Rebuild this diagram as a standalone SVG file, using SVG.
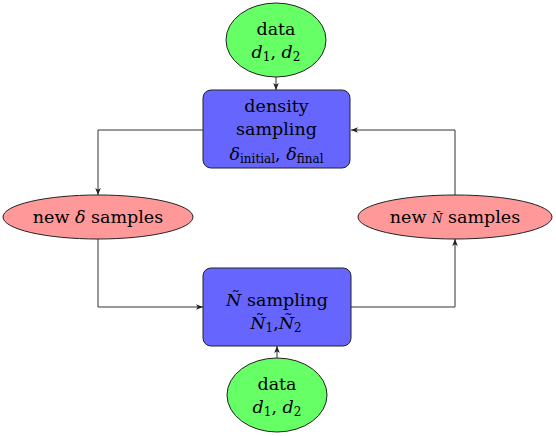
<svg xmlns="http://www.w3.org/2000/svg" width="556" height="436" viewBox="0 0 556 436">
<style>
text{font-family:"DejaVu Serif","Liberation Serif",serif;font-size:17.5px;fill:#000;text-anchor:middle}
.m{font-style:italic}
.s{font-size:12px}
.node{stroke:#222;stroke-width:1}
.green{fill:#66ff66}
.blue{fill:#6666ff}
.red{fill:#ff9999}
.edge{fill:none;stroke:#333;stroke-width:1}
</style>
<defs>
<marker id="ah" viewBox="0 0 10 10" refX="10" refY="5" markerWidth="7" markerHeight="7" orient="auto" markerUnits="userSpaceOnUse">
<path d="M0,1 L10,5 L0,9 L2.5,5 Z" fill="#222"/>
</marker>
</defs>
<g id="connectors">
<path class="edge" d="M276,77 L276,90" marker-end="url(#ah)"/>
<path class="edge" d="M203,130 L98,130 L98,195" marker-end="url(#ah)"/>
<path class="edge" d="M98,239 L98,307 L203,307" marker-end="url(#ah)"/>
<path class="edge" d="M351,307 L455,307 L455,239" marker-end="url(#ah)"/>
<path class="edge" d="M455,195 L455,130 L351,130" marker-end="url(#ah)"/>
<path class="edge" d="M277,358 L277,346" marker-end="url(#ah)"/>
</g>
<g id="data_top">
<ellipse class="node green" cx="276" cy="40" rx="50" ry="37"/>
<text x="276" y="35">data</text>
<text x="276" y="58"><tspan class="m">d</tspan><tspan class="s" dy="3">1</tspan><tspan dy="-3">, </tspan><tspan class="m">d</tspan><tspan class="s" dy="3">2</tspan></text>
</g>
<g id="density_sampling">
<rect class="node blue" x="203" y="90" width="147" height="78" rx="8"/>
<text x="276.5" y="112">density</text>
<text x="276.5" y="135">sampling</text>
<text x="276.5" y="160"><tspan class="m">δ</tspan><tspan class="s" dy="3">initial</tspan><tspan dy="-3">, </tspan><tspan class="m">δ</tspan><tspan class="s" dy="3">final</tspan></text>
</g>
<g id="new_delta">
<ellipse class="node red" cx="98" cy="217" rx="95" ry="22"/>
<text x="98" y="223">new <tspan class="m">δ</tspan> samples</text>
</g>
<g id="new_N">
<ellipse class="node red" cx="455" cy="217" rx="97" ry="22"/>
<text x="455" y="223">new <tspan class="m s">Ñ</tspan> samples</text>
</g>
<g id="N_sampling">
<rect class="node blue" x="203" y="268" width="148" height="78" rx="8"/>
<text x="277" y="306"><tspan class="m">Ñ</tspan> sampling</text>
<text x="276" y="329"><tspan class="m">Ñ</tspan><tspan class="s" dy="3">1</tspan><tspan dy="-3">,</tspan><tspan class="m">Ñ</tspan><tspan class="s" dy="3">2</tspan></text>
</g>
<g id="data_bottom">
<ellipse class="node green" cx="277" cy="395" rx="50" ry="37"/>
<text x="277" y="390">data</text>
<text x="277" y="413"><tspan class="m">d</tspan><tspan class="s" dy="3">1</tspan><tspan dy="-3">, </tspan><tspan class="m">d</tspan><tspan class="s" dy="3">2</tspan></text>
</g>
</svg>
